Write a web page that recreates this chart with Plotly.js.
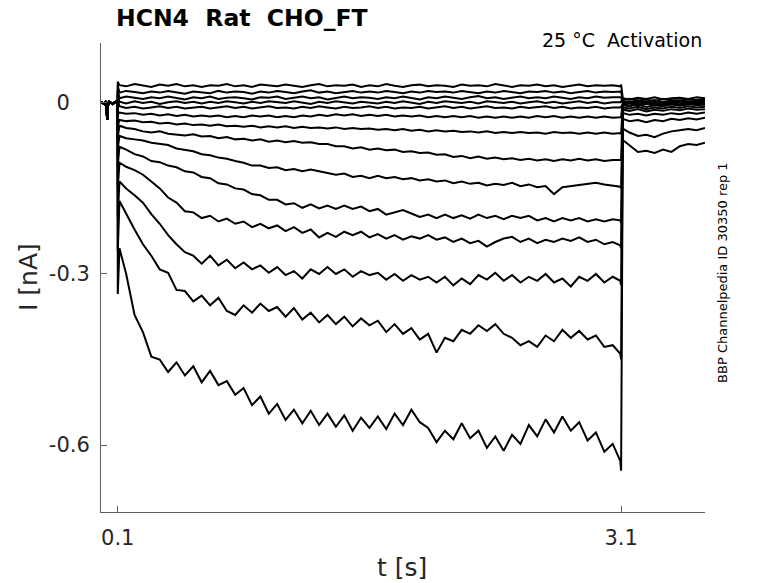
<!DOCTYPE html>
<html>
<head>
<meta charset="utf-8">
<script src="https://cdn.plot.ly/plotly-3.0.1.min.js"></script>
<style>
  html, body { margin: 0; padding: 0; background: #fff; }
  #chart { width: 778px; height: 583px; }
</style>
</head>
<body>
<div id="chart"></div>
<script>
// --- time base [s] ---
const preT = [0, 0.02, 0.03, 0.034, 0.037, 0.04, 0.05, 0.07, 0.09, 0.099];
const onsetT = 0.1;
const stepT = [
  0.11, 0.15, 0.20, 0.25, 0.30, 0.35, 0.40, 0.45, 0.50, 0.55,
  0.60, 0.65, 0.70, 0.75, 0.80, 0.85, 0.90, 0.95, 1.00, 1.05,
  1.10, 1.15, 1.20, 1.25, 1.30, 1.35, 1.40, 1.45, 1.50, 1.55,
  1.60, 1.65, 1.70, 1.75, 1.80, 1.85, 1.90, 1.95, 2.00, 2.05,
  2.10, 2.15, 2.20, 2.25, 2.30, 2.35, 2.40, 2.45, 2.50, 2.55,
  2.60, 2.65, 2.70, 2.75, 2.80, 2.85, 2.90, 2.95, 3.00, 3.05,
  3.095
];
const offsetT = 3.1;
const tailT = [3.11, 3.15, 3.20, 3.25, 3.30, 3.35, 3.40, 3.45, 3.50, 3.55, 3.60];

// holding current before the step (all sweeps sit on top of each other here)
const preI = [0.002, -0.002, 0.003, -0.012, -0.030, -0.006, 0.002, -0.002, 0.003, 0.001];

// --- current during the step [nA], sweeps from most negative to most positive ---
const sweepA = [
  -0.255,-0.300,-0.372,-0.402,-0.445,-0.450,-0.472,-0.455,-0.478,-0.462,
  -0.490,-0.470,-0.495,-0.488,-0.512,-0.500,-0.530,-0.515,-0.545,-0.528,
  -0.556,-0.538,-0.562,-0.540,-0.565,-0.545,-0.568,-0.548,-0.575,-0.552,
  -0.570,-0.550,-0.572,-0.545,-0.565,-0.538,-0.560,-0.570,-0.595,-0.575,
  -0.590,-0.562,-0.588,-0.575,-0.605,-0.585,-0.610,-0.582,-0.598,-0.565,
  -0.585,-0.555,-0.578,-0.550,-0.575,-0.560,-0.592,-0.578,-0.612,-0.598,
  -0.628
];
const sweepB = [
  -0.172,-0.195,-0.222,-0.248,-0.268,-0.292,-0.298,-0.328,-0.330,-0.348,
  -0.338,-0.355,-0.342,-0.365,-0.372,-0.355,-0.368,-0.352,-0.365,-0.358,
  -0.375,-0.360,-0.380,-0.368,-0.385,-0.372,-0.388,-0.375,-0.392,-0.378,
  -0.390,-0.382,-0.402,-0.388,-0.405,-0.395,-0.415,-0.405,-0.438,-0.412,
  -0.418,-0.398,-0.405,-0.390,-0.400,-0.388,-0.405,-0.412,-0.425,-0.418,
  -0.428,-0.408,-0.418,-0.398,-0.412,-0.400,-0.415,-0.408,-0.428,-0.425,
  -0.440
];
const sweepC = [
  -0.138,-0.150,-0.162,-0.175,-0.195,-0.212,-0.232,-0.248,-0.262,-0.268,
  -0.282,-0.268,-0.285,-0.275,-0.290,-0.280,-0.292,-0.285,-0.298,-0.288,
  -0.302,-0.295,-0.308,-0.292,-0.300,-0.288,-0.300,-0.292,-0.305,-0.295,
  -0.302,-0.298,-0.310,-0.300,-0.312,-0.302,-0.310,-0.305,-0.315,-0.305,
  -0.320,-0.308,-0.318,-0.302,-0.310,-0.298,-0.312,-0.302,-0.315,-0.305,
  -0.312,-0.300,-0.315,-0.308,-0.322,-0.305,-0.312,-0.300,-0.315,-0.305,
  -0.312
];
const sweepD = [
  -0.105,-0.112,-0.118,-0.126,-0.138,-0.150,-0.166,-0.175,-0.190,-0.192,
  -0.202,-0.198,-0.208,-0.203,-0.212,-0.208,-0.218,-0.212,-0.220,-0.215,
  -0.225,-0.218,-0.228,-0.222,-0.236,-0.228,-0.235,-0.226,-0.232,-0.226,
  -0.236,-0.230,-0.238,-0.232,-0.240,-0.234,-0.238,-0.232,-0.240,-0.236,
  -0.244,-0.238,-0.246,-0.242,-0.252,-0.244,-0.238,-0.235,-0.244,-0.238,
  -0.246,-0.240,-0.244,-0.238,-0.242,-0.236,-0.244,-0.240,-0.248,-0.244,
  -0.250
];
const sweepE = [
  -0.077,-0.082,-0.090,-0.094,-0.102,-0.104,-0.110,-0.113,-0.120,-0.122,
  -0.130,-0.132,-0.141,-0.143,-0.150,-0.152,-0.160,-0.162,-0.170,-0.170,
  -0.178,-0.176,-0.184,-0.178,-0.185,-0.180,-0.186,-0.180,-0.186,-0.182,
  -0.190,-0.186,-0.196,-0.192,-0.188,-0.194,-0.200,-0.196,-0.202,-0.196,
  -0.202,-0.197,-0.203,-0.196,-0.202,-0.198,-0.204,-0.198,-0.202,-0.198,
  -0.206,-0.202,-0.208,-0.202,-0.206,-0.202,-0.208,-0.204,-0.208,-0.204,
  -0.206
];
const sweepF = [
  -0.058,-0.062,-0.064,-0.066,-0.070,-0.072,-0.074,-0.080,-0.082,-0.085,
  -0.090,-0.092,-0.096,-0.098,-0.102,-0.105,-0.110,-0.110,-0.114,-0.113,
  -0.118,-0.116,-0.120,-0.117,-0.120,-0.123,-0.126,-0.124,-0.130,-0.128,
  -0.132,-0.128,-0.132,-0.130,-0.134,-0.132,-0.136,-0.134,-0.138,-0.136,
  -0.141,-0.138,-0.142,-0.140,-0.145,-0.142,-0.144,-0.140,-0.146,-0.143,
  -0.148,-0.146,-0.160,-0.148,-0.146,-0.144,-0.142,-0.140,-0.143,-0.145,
  -0.147
];
const sweepG = [
  -0.040,-0.044,-0.046,-0.050,-0.052,-0.050,-0.054,-0.055,-0.057,-0.055,
  -0.059,-0.058,-0.062,-0.060,-0.064,-0.063,-0.066,-0.064,-0.068,-0.066,
  -0.069,-0.067,-0.070,-0.069,-0.072,-0.072,-0.076,-0.076,-0.080,-0.078,
  -0.082,-0.080,-0.083,-0.082,-0.086,-0.085,-0.088,-0.087,-0.091,-0.090,
  -0.095,-0.093,-0.097,-0.094,-0.098,-0.096,-0.099,-0.097,-0.100,-0.098,
  -0.101,-0.099,-0.102,-0.099,-0.101,-0.098,-0.101,-0.099,-0.102,-0.100,
  -0.101
];
const sweepH = [
  -0.030,-0.032,-0.031,-0.034,-0.033,-0.036,-0.035,-0.038,-0.036,-0.039,
  -0.038,-0.040,-0.038,-0.041,-0.040,-0.042,-0.040,-0.043,-0.041,-0.043,
  -0.041,-0.044,-0.042,-0.044,-0.043,-0.045,-0.043,-0.046,-0.044,-0.046,
  -0.045,-0.047,-0.046,-0.048,-0.046,-0.049,-0.047,-0.050,-0.048,-0.050,
  -0.049,-0.051,-0.050,-0.052,-0.050,-0.053,-0.051,-0.053,-0.051,-0.053,
  -0.052,-0.054,-0.051,-0.053,-0.052,-0.054,-0.052,-0.054,-0.052,-0.054,
  -0.053
];
const sweepI = [
  -0.017,-0.019,-0.018,-0.021,-0.019,-0.022,-0.020,-0.023,-0.021,-0.024,
  -0.022,-0.024,-0.022,-0.025,-0.023,-0.025,-0.022,-0.024,-0.022,-0.025,
  -0.023,-0.025,-0.022,-0.024,-0.021,-0.023,-0.020,-0.022,-0.020,-0.023,
  -0.021,-0.023,-0.021,-0.024,-0.022,-0.024,-0.022,-0.025,-0.023,-0.025,
  -0.023,-0.025,-0.023,-0.026,-0.024,-0.026,-0.024,-0.026,-0.024,-0.026,
  -0.023,-0.025,-0.023,-0.026,-0.024,-0.026,-0.024,-0.026,-0.024,-0.026,
  -0.025
];
const sweepN = [
  -0.006,-0.009,-0.007,-0.010,-0.008,-0.006,-0.009,-0.007,-0.010,-0.008,
  -0.007,-0.010,-0.008,-0.006,-0.009,-0.007,-0.010,-0.008,-0.006,-0.009,
  -0.008,-0.010,-0.007,-0.009,-0.006,-0.008,-0.010,-0.007,-0.009,-0.008,
  -0.006,-0.009,-0.007,-0.010,-0.008,-0.009,-0.007,-0.010,-0.008,-0.006,
  -0.009,-0.007,-0.010,-0.008,-0.006,-0.009,-0.008,-0.010,-0.007,-0.009,
  -0.008,-0.006,-0.009,-0.007,-0.010,-0.008,-0.009,-0.007,-0.010,-0.008,
  -0.008
];
const sweepM = [
  0.002,-0.001,0.003,0.000,0.002,-0.002,0.001,0.003,0.000,0.002,
  -0.001,0.002,0.000,0.003,0.001,-0.001,0.002,0.000,0.003,0.001,
  0.000,0.003,0.001,-0.002,0.002,0.000,0.003,0.001,-0.001,0.002,
  0.001,-0.001,0.002,0.000,0.003,0.001,-0.002,0.002,0.000,0.003,
  0.001,0.000,0.002,-0.001,0.003,0.001,0.000,0.002,-0.001,0.001,
  0.003,0.000,0.002,-0.001,0.001,0.003,0.000,0.002,-0.001,0.001,
  0.001
];
const sweepL = [
  0.008,0.011,0.009,0.007,0.010,0.008,0.011,0.009,0.006,0.010,
  0.008,0.011,0.007,0.009,0.010,0.008,0.006,0.010,0.009,0.011,
  0.007,0.009,0.011,0.008,0.010,0.006,0.009,0.011,0.008,0.010,
  0.009,0.007,0.010,0.008,0.011,0.009,0.006,0.010,0.008,0.011,
  0.009,0.007,0.010,0.012,0.008,0.010,0.007,0.009,0.011,0.008,
  0.010,0.008,0.011,0.009,0.007,0.010,0.008,0.011,0.009,0.010,
  0.009
];
const sweepK = [
  0.018,0.021,0.019,0.017,0.020,0.018,0.021,0.019,0.016,0.020,
  0.019,0.017,0.021,0.018,0.020,0.019,0.016,0.020,0.018,0.021,
  0.019,0.017,0.020,0.022,0.018,0.020,0.017,0.019,0.021,0.018,
  0.020,0.018,0.021,0.019,0.017,0.020,0.018,0.021,0.019,0.020,
  0.018,0.021,0.019,0.017,0.020,0.018,0.021,0.019,0.017,0.020,
  0.019,0.021,0.018,0.020,0.017,0.019,0.021,0.018,0.020,0.019,
  0.019
];
const sweepJ = [
  0.031,0.029,0.033,0.030,0.028,0.032,0.030,0.033,0.029,0.031,
  0.028,0.031,0.030,0.033,0.029,0.031,0.028,0.032,0.030,0.029,
  0.032,0.030,0.028,0.031,0.033,0.029,0.031,0.030,0.032,0.028,
  0.031,0.029,0.033,0.030,0.028,0.031,0.032,0.029,0.031,0.030,
  0.028,0.032,0.030,0.031,0.029,0.033,0.030,0.028,0.031,0.030,
  0.032,0.029,0.031,0.028,0.030,0.032,0.029,0.031,0.030,0.031,
  0.029
];

// capacitive spikes at step onset / offset, same sweep order A..N
const onsetSpike  = [-0.335, -0.26, -0.20, -0.15, -0.11, -0.08, -0.06, -0.04, -0.02, 0.006, 0.015, 0.022, 0.030, 0.037];
const offsetSpike = [-0.645, -0.45, -0.32, -0.255, -0.21, -0.15, -0.10, -0.055, -0.025, -0.007, 0.003, 0.010, 0.020, 0.032];

// tail currents after returning to holding potential
const tailA = [-0.065,-0.075,-0.086,-0.084,-0.088,-0.082,-0.086,-0.076,-0.072,-0.074,-0.070];
const tailB = [-0.045,-0.052,-0.058,-0.056,-0.060,-0.054,-0.050,-0.048,-0.046,-0.048,-0.044];
const tailC = [-0.028,-0.032,-0.030,-0.034,-0.030,-0.032,-0.028,-0.030,-0.027,-0.029,-0.026];
const tailD = [-0.018,-0.021,-0.019,-0.022,-0.019,-0.021,-0.018,-0.020,-0.017,-0.019,-0.017];
const tailE = [-0.012,-0.014,-0.011,-0.015,-0.012,-0.014,-0.011,-0.013,-0.010,-0.012,-0.011];
const tailF = [-0.008,-0.010,-0.007,-0.011,-0.008,-0.010,-0.007,-0.009,-0.006,-0.008,-0.007];
const tailG = [-0.004,-0.006,-0.003,-0.007,-0.004,-0.006,-0.003,-0.005,-0.002,-0.004,-0.003];
const tailH = [-0.002,0.000,-0.003,-0.001,-0.004,-0.002,0.000,-0.003,-0.001,-0.002,0.000];
const tailI = [0.001,-0.001,0.002,0.000,-0.002,0.001,0.003,0.000,-0.001,0.002,0.001];
const tailN = [-0.003,-0.001,-0.004,-0.002,0.000,-0.003,-0.001,-0.004,-0.002,-0.001,-0.003];
const tailM = [0.001,0.003,0.000,0.002,-0.001,0.002,0.004,0.001,0.000,0.003,0.001];
const tailL = [0.003,0.001,0.004,0.002,0.005,0.001,0.003,0.004,0.002,0.003,0.005];
const tailK = [0.005,0.007,0.004,0.006,0.003,0.007,0.005,0.004,0.006,0.005,0.007];
const tailJ = [0.008,0.006,0.009,0.007,0.010,0.006,0.008,0.009,0.007,0.010,0.008];

const steps = [sweepA, sweepB, sweepC, sweepD, sweepE, sweepF, sweepG, sweepH, sweepI, sweepN, sweepM, sweepL, sweepK, sweepJ];
const tails = [tailA, tailB, tailC, tailD, tailE, tailF, tailG, tailH, tailI, tailN, tailM, tailL, tailK, tailJ];

const time = preT.concat([onsetT], stepT, [offsetT], tailT);

const traces = steps.map((s, i) => ({
  x: time,
  y: preI.concat([onsetSpike[i]], s, [offsetSpike[i]], tails[i]),
  type: 'scatter',
  mode: 'lines',
  line: { color: '#000', width: 2 },
  hoverinfo: 'skip',
  showlegend: false
}));

const font = 'DejaVu Sans, Verdana, sans-serif';
const axisGrey = '#5f5f5f';
const nb = '\u00a0';

// plot area: x 101..705, y 43..512 px
const layout = {
  width: 778,
  height: 583,
  margin: { l: 101, r: 73, t: 43, b: 71 },
  paper_bgcolor: '#fff',
  plot_bgcolor: '#fff',
  font: { family: font, color: '#262626' },
  xaxis: {
    range: [0, 3.6],
    tickvals: [0.1, 3.1],
    ticktext: ['0.1', '3.1'],
    ticks: 'inside',
    ticklen: 6,
    tickcolor: axisGrey,
    showline: true,
    linecolor: axisGrey,
    linewidth: 1,
    showgrid: false,
    zeroline: false,
    ticklabelstandoff: 7,
    tickfont: { family: font, size: 21, color: '#262626' }
  },
  yaxis: {
    range: [-0.7175, 0.105],
    tickvals: [0, -0.3, -0.6],
    ticktext: ['0' + nb + nb + nb, '-0.3', '-0.6'],
    ticks: 'inside',
    ticklen: 6,
    tickcolor: axisGrey,
    showline: true,
    linecolor: axisGrey,
    linewidth: 1,
    showgrid: false,
    zeroline: false,
    ticklabelstandoff: 6,
    tickfont: { family: font, size: 21, color: '#262626' }
  },
  annotations: [
    {
      text: '<b>HCN4  Rat  CHO_FT</b>',
      xref: 'paper', yref: 'paper', x: 0.0215, y: 1.0533,
      xanchor: 'left', yanchor: 'middle', showarrow: false,
      font: { family: font, size: 23.5, color: '#000' }
    },
    {
      text: '25 °C  Activation',
      xref: 'paper', yref: 'paper', x: 0.9983, y: 1.0064,
      xanchor: 'right', yanchor: 'middle', showarrow: false,
      font: { family: font, size: 19, color: '#000' }
    },
    {
      text: 'BBP Channelpedia ID 30350 rep 1',
      xref: 'paper', yref: 'paper', x: 1.028, y: 0.5117,
      xanchor: 'center', yanchor: 'middle', showarrow: false, textangle: -90,
      font: { family: font, size: 13, color: '#000' }
    },
    {
      text: 'I [nA]',
      xref: 'paper', yref: 'paper', x: -0.1209, y: 0.501,
      xanchor: 'center', yanchor: 'middle', showarrow: false, textangle: -90,
      font: { family: font, size: 25, color: '#262626' }
    },
    {
      text: 't [s]',
      xref: 'paper', yref: 'paper', x: 0.498, y: -0.1173,
      xanchor: 'center', yanchor: 'middle', showarrow: false,
      font: { family: font, size: 25, color: '#262626' }
    }
  ]
};

Plotly.newPlot('chart', traces, layout, { staticPlot: true, displayModeBar: false });
</script>
</body>
</html>
